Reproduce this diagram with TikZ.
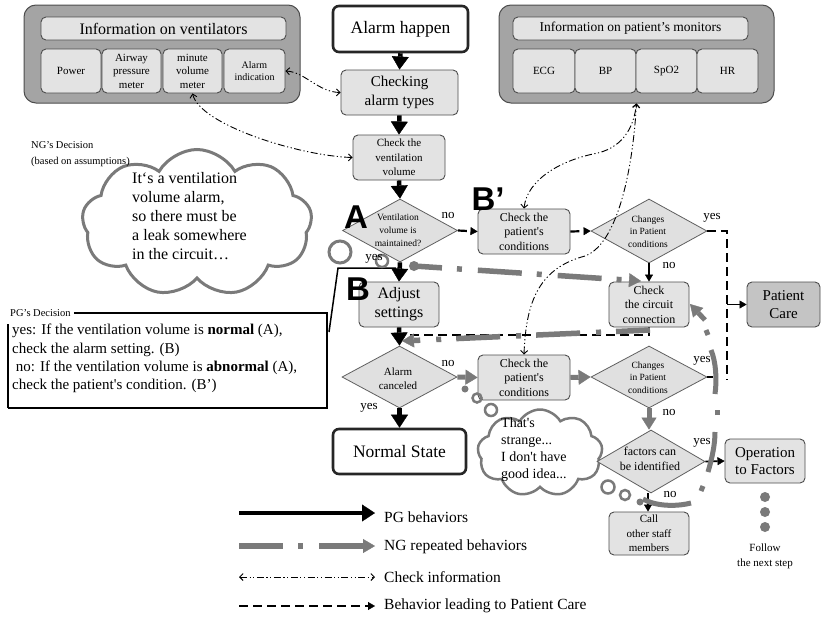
\documentclass[tikz,border=0pt]{standalone}
\usepackage{fontspec}
\setmainfont{Liberation Serif}[Ligatures=TeXOff]
\setsansfont{Liberation Sans}[Ligatures=TeXOff]
\usetikzlibrary{shapes.geometric,shapes.symbols,arrows.meta}

\definecolor{boxgrey}{HTML}{E3E3E3}
\definecolor{panelgrey}{HTML}{A4A4A4}
\definecolor{caregrey}{HTML}{C4C4C4}
\definecolor{edgegrey}{HTML}{4D4D4D}
\definecolor{ngrey}{HTML}{7A7A7A}
\definecolor{diagrey}{HTML}{E0E0E0}

\newcommand{\fs}[2]{\fontsize{#1pt}{#2pt}\selectfont}

\begin{document}
\begin{tikzpicture}[x=1pt,y=-1pt,
  wh/.style 2 args={minimum width=#1pt, minimum height=#2pt},
  panel/.style={draw=edgegrey, fill=panelgrey, rounded corners=12pt, line width=1pt, inner sep=0pt},
  cell/.style={draw=edgegrey, fill=boxgrey, rounded corners=5pt, line width=0.9pt, align=center, inner sep=0pt},
  endbox/.style={draw=black!85, fill=white, rounded corners=6pt, line width=2.6pt, align=center, inner sep=0pt},
  dia/.style={diamond, draw=gray!75!black, fill=diagrey, line width=0.8pt, inner sep=0pt},
  lbl/.style={inner sep=0pt, align=center},
  yn/.style={inner sep=0pt, font=\fs{13}{13}},
  bigletter/.style={inner sep=0pt, font=\sffamily\bfseries\fs{33}{33}},
  thought/.style={cloud, cloud ignores aspect, draw=ngrey, fill=white, inner sep=0pt},
  pg/.style={line width=4.5pt, -{Triangle[length=13pt,width=17pt,line width=0.4pt]}},
  ng/.style={color=ngrey, line width=5pt, -{Triangle[length=12pt,width=15pt,line width=0.4pt]}},
  ngdash/.style={color=ngrey, line width=5.5pt, dash pattern=on 44pt off 15pt on 5pt off 16pt},
  ngtip/.style={-{Triangle[length=12pt,width=14pt,line width=0.4pt]}},
  chk/.style={line width=0.9pt, dash pattern=on 7pt off 2.5pt on 1.2pt off 2.5pt on 1.2pt off 2.5pt},
  barb/.tip={Straight Barb[length=3.5pt,width=7pt,line width=0.9pt]},
  pcd/.style={line width=2.2pt, dash pattern=on 9pt off 5pt},
  smalltip/.style={-{Triangle[length=7pt,width=8pt,line width=0.4pt]}},
  thin/.style={line width=1.8pt, smalltip}
]
\fill[white] (0,0) rectangle (822,616);
\useasboundingbox (0,0) rectangle (822,616);

% ---------- information panels ----------
\node[panel, wh={276}{98}] (ventpanel) at (162,54) {};
\node[cell, wh={245}{23}, font=\fs{16}{18}] (venttitle) at (163.5,28.5) {Information on ventilators};
\node[cell, wh={60}{44}, font=\fs{11}{13.5}] (power) at (71,71) {Power};
\node[cell, wh={59}{44}, font=\fs{11}{13.5}] (airway) at (131.5,71) {Airway\\pressure\\meter};
\node[cell, wh={59}{44}, font=\fs{11}{13.5}] (minute) at (192.5,71) {minute\\volume\\meter};
\node[cell, wh={61}{44}, font=\fs{10}{12.5}] (alarmind) at (254.5,71) {Alarm\\indication};

\node[panel, wh={275}{98}] (monpanel) at (636.5,54) {};
\node[cell, wh={235}{23}, font=\fs{13.5}{16}] (montitle) at (630.5,28.5) {Information on patient’s monitors};
\node[cell, wh={62}{44}, font=\fs{11}{13.5}] (ecg) at (544,71) {ECG};
\node[cell, wh={61}{44}, font=\fs{11}{13.5}] (bp) at (605.5,71) {BP};
\node[cell, wh={61}{44}, font=\fs{11}{13.5}] (spo) at (666.5,71) {SpO2};
\node[cell, wh={61}{44}, font=\fs{11}{13.5}] (hr) at (727.5,71) {HR};

% ---------- thought clouds ----------
\node[thought, cloud puffs=9, cloud puff arc=120, line width=3pt, wh={230}{147}] (ngcloud) at (197,223) {};
\node[lbl, align=left, anchor=north west, font=\fs{16}{19}] (ngthink) at (132,172)
  {It‘s a ventilation\\volume alarm,\\so there must be\\a leak somewhere\\in the circuit…};
\node[lbl, align=left, anchor=west, font=\fs{10.5}{16}] (ngdec) at (31,154) {NG’s Decision\\(based on assumptions)};

\node[thought, cloud puffs=9, cloud puff arc=120, line width=2.5pt, wh={125}{87}] (smallcloud) at (540,453) {};
\node[lbl, align=left, anchor=north west, font=\fs{14}{17}] (strange) at (501,418)
  {That's\\strange...\\I don't have\\good idea...};

% ---------- PG decision box ----------
\node[lbl, anchor=west, font=\fs{10.5}{12}] (pgdec) at (10,313) {PG’s Decision};
\draw[line width=1.6pt] (pgdec.east) ++(3,0) -- (327,313) -- (327,408) -- (8,408);
\draw[line width=2.6pt] (8,408) -- (8,324);
\node[lbl, align=left, anchor=north west, font=\fs{15}{18.4}] (pgtext) at (12,324)
  {yes: If the ventilation volume is \textbf{normal} (A),\\check the alarm setting. (B)\\
   \ no: If the ventilation volume is \textbf{abnormal} (A),\\check the patient's condition. (B’)};
\draw[line width=1.5pt] (329,332) -- (338,268) -- (396,268);

% ---------- main flow ----------
\node[endbox, wh={135}{46}, font=\fs{17.5}{20}] (happen) at (400.5,29) {Alarm happen};
\node[cell, wh={117}{45}, font=\fs{15}{19.5}] (checktypes) at (399.5,92.5) {Checking\\alarm types};
\node[cell, wh={92}{45}, font=\fs{11}{14.5}] (checkvol) at (399,157.5) {Check the\\ventilation\\volume};

\node[dia, wh={115}{63}] (dA) at (400,230.5) {};
\node[lbl, font=\fs{9.5}{13}] (dAt) at (398,230) {Ventilation\\volume is\\maintained?};
\node[cell, wh={92}{45}, font=\fs{12}{14.5}] (checkpat1) at (524,231.5) {Check the\\patient's\\conditions};
\node[dia, wh={116}{64}] (dC1) at (649,231) {};
\node[lbl, font=\fs{9.5}{12.5}] (dC1t) at (648,231.5) {Changes\\in Patient\\conditions};
\node[cell, wh={80}{45}, font=\fs{12}{14.5}] (circuit) at (649,304.5) {Check\\the circuit\\connection};
\node[cell, wh={80}{45}, font=\fs{16}{19}] (adjust) at (399,304.5) {Adjust\\settings};
\node[cell, fill=caregrey, wh={73}{45}, font=\fs{15}{18}] (patcare) at (783.5,304.5) {Patient\\Care};

\node[dia, wh={115}{62}] (dAC) at (399.5,377) {};
\node[lbl, font=\fs{11}{14}] (dACt) at (398,379) {Alarm\\canceled};
\node[cell, wh={92}{45}, font=\fs{12}{14.5}] (checkpat2) at (524,377.5) {Check the\\patient's\\conditions};
\node[dia, wh={116}{62}] (dC2) at (649,377) {};
\node[lbl, font=\fs{9.5}{12.5}] (dC2t) at (648,377.5) {Changes\\in Patient\\conditions};
\node[dia, wh={108}{63}] (dF) at (651,461.5) {};
\node[lbl, font=\fs{12}{14.5}] (dFt) at (650,459) {factors can\\be identified};
\node[cell, wh={80}{43}, font=\fs{11}{14.5}] (callstaff) at (649,533.5) {Call\\other staff\\members};
\node[cell, wh={80}{44}, font=\fs{15}{17.5}] (opfact) at (765,461) {Operation\\to Factors};
\node[endbox, wh={133}{45}, font=\fs{17.5}{20}] (normal) at (399.5,451.5) {Normal State};

\node[lbl, font=\fs{11}{15}] (follow) at (765,556) {Follow\\the next step};
\fill[ngrey] (765,497) circle[radius=5pt] (765,512) circle[radius=5pt] (765,527) circle[radius=5pt];

% ---------- big markers ----------
\node[bigletter] (markA) at (356,217) {A};
\node[bigletter] (markBp) at (488,199) {B’};
\node[bigletter] (markB) at (358,289) {B};

% ---------- check information links ----------
\draw[chk, barb-barb] (alarmind.east) .. controls (305,72) and (318,92) .. (checktypes.west);
\draw[chk, barb-barb] (minute.south) .. controls (200,125) and (300,156) .. (checkvol.west);
\draw[chk, barb-barb] (checkpat1.north) .. controls (527,180) and (560,160) .. (598,153)
  .. controls (625,146) and (634,125) .. (monpanel.south);
\draw[chk, barb-barb] (checkpat2.north) .. controls (526,300) and (540,268) .. (585,256)
  .. controls (615,245) and (632,180) .. (monpanel.south);

% ---------- behaviour leading to patient care ----------
\coordinate (dashtop) at (727,231);
\coordinate (dashmid) at (727,304.5);
\coordinate (dashbot) at (727,380);
\draw[pcd, smalltip] (dA.east) -- (checkpat1.west);
\draw[pcd, smalltip] (checkpat1.east) -- (dC1.east -| dC1.west);
\draw[pcd] (dC1.east) -- (dashtop) -- (dashbot);
\draw[thin] (dashmid) -- (patcare.west);
\draw[line width=2pt] (dC2.east) -- ++(6,0);

% ---------- PG flow arrows ----------
\draw[pg] (happen.south) -- (checktypes.north);
\draw[pg] (checktypes.south) -- (checkvol.north);
\draw[pg] (checkvol.south) -- (dA.north);
\draw[pg] (dA.south) -- (adjust.north);
\draw[pg] (adjust.south) -- (dAC.north);
\draw[pg] (dAC.south) -- (normal.north);
\draw[thin] (dC1.south) -- (circuit.north);
\draw[thin] (dF.east) -- (opfact.west);
\draw[thin] (648,493) -- (callstaff.north -| 648,0);

% return line from the circuit check
\draw[pcd] (circuit.south) -- (649,335) -- (405,335);

% ---------- NG repeated behaviours ----------
\draw[ngrey, line width=3pt] (340,252) circle[radius=11pt];
\draw[ngrey, line width=2.5pt] (382,261) circle[radius=6pt];
\fill[ngrey] (414,266) circle[radius=5pt];
\draw[ngdash, ngtip, dash phase=16pt] (414,266) -- (641,281);
\draw[ngdash, ngtip, dash phase=10pt] (650,330) -- (402,341);
\draw[ng] (dAC.east) -- (checkpat2.west);
\draw[ng] (checkpat2.east) -- (dC2.west);
\draw[ng] (dC2.south) -- (dC2.south |- dF.north);

\draw[ngrey, line width=5pt] (643,499) .. controls (655,506) and (675,507) .. (691,503);
\draw[ngrey, line width=5pt] (701,491) -- (703,486);
\draw[ngrey, line width=5pt] (708,472) .. controls (712,458) and (715,445) .. (715,432);
\draw[ngrey, line width=5pt] (717,415) -- (717,410);
\draw[ngrey, line width=5pt] (715,394) .. controls (717,380) and (716,362) .. (711,350);
\draw[ngrey, line width=5pt] (708,335) -- (706,330);
\draw[ngrey, line width=5pt, ngtip] (705,320) -- (690,304);

\draw[ngrey, line width=2.5pt] (491,410) circle[radius=6pt];
\draw[ngrey, line width=2.5pt] (477,398) circle[radius=4.5pt];
\fill[ngrey] (465,389) circle[radius=3.5pt];
\draw[ngrey, line width=2.5pt] (608,487) circle[radius=6.5pt];
\draw[ngrey, line width=2.5pt] (625,495) circle[radius=5pt];
\fill[ngrey] (640,502) circle[radius=3.5pt];

% ---------- yes / no labels ----------
\node[yn] (ynA1) at (448,215) {no};
\node[yn] (ynA2) at (374,259) {yes};
\node[yn] (ynC1) at (712,218) {yes};
\node[yn] (ynC2) at (669,265) {no};
\node[yn] (ynAC1) at (448,363) {no};
\node[yn] (ynAC2) at (369,408) {yes};
\node[yn] (ynC3) at (702,361) {yes};
\node[yn] (ynC4) at (669,412) {no};
\node[yn] (ynF1) at (702,443) {yes};
\node[yn] (ynF2) at (670,494) {no};

% ---------- legend ----------
\draw[pg] (239,513) -- (375,513);
\draw[ngdash, ngtip] (239,546) -- (375,546);
\draw[chk, barb-barb] (239,577) -- (375,577);
\draw[pcd, smalltip] (239,606) -- (375,606);
\node[lbl, anchor=west, font=\fs{15.5}{17}] (legpg) at (384,517) {PG behaviors};
\node[lbl, anchor=west, font=\fs{15.5}{17}] (legng) at (384,547) {NG repeated behaviors};
\node[lbl, anchor=west, font=\fs{15.5}{17}] (legchk) at (384,577) {Check information};
\node[lbl, anchor=west, font=\fs{15.5}{17}] (legpc) at (384,606) {Behavior leading to Patient Care};
\end{tikzpicture}
\end{document}
